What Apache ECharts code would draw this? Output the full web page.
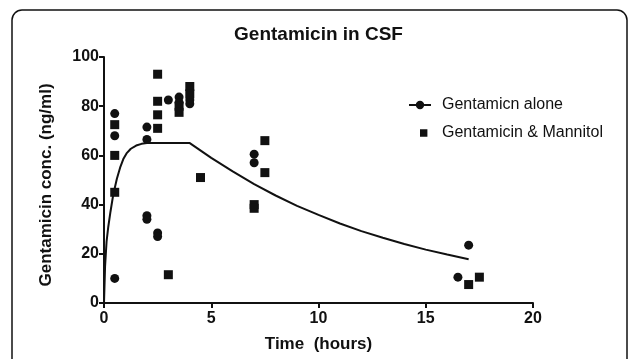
<!DOCTYPE html>
<html>
<head>
<meta charset="utf-8">
<script src="https://cdn.jsdelivr.net/npm/echarts@6/dist/echarts.min.js"></script>
<style>
  html, body { margin: 0; padding: 0; background: #fff; }
  #chart { width: 637px; height: 359px; }
</style>
</head>
<body>
<div id="chart"></div>
<script>
// values
const aloneTime = [0.5, 0.5, 0.5, 2, 2, 2, 2, 2.5, 2.5, 3, 3.5, 3.5, 4, 4, 7, 7, 16.5, 17]
const aloneConc = [77, 68, 10, 71.5, 66.5, 35.5, 34, 28.5, 27, 82.5, 83.7, 81.5, 82.5, 81, 60.5, 57, 10.5, 23.5]

const manTime = [0.5, 0.5, 0.5, 2.5, 2.5, 2.5, 2.5, 3, 3.5, 3.5, 4, 4, 4.5, 7, 7, 7.5, 7.5, 17, 17.5]
const manConc = [72.5, 60, 45, 93, 82, 76.5, 71, 11.5, 80, 77.5, 88, 85, 51, 40, 38.5, 66, 53, 7.5, 10.5]

// fitted curve, traced point by point
const fitTime = [0, 0.05, 0.12, 0.2, 0.3, 0.43, 0.6, 0.75, 0.9, 1.05, 1.25, 1.5, 1.75, 2, 3, 4, 5, 6, 7, 8, 9, 10, 11, 12, 13, 14, 15, 16, 17]
const fitConc = [0, 15, 25, 31, 37, 44, 50.5, 55, 58.5, 60.8, 62.7, 64, 64.7, 65, 65, 65, 59, 53.5, 48.3, 43.7, 39.5, 35.8, 32.3, 29.2, 26.5, 24, 21.7, 19.7, 17.8]

const xTicks = [0, 5, 10, 15, 20]
const yTicks = [0, 20, 40, 60, 80, 100]

const ink = '#111'
const font = '"Liberation Sans", Arial, sans-serif'

const zip = (xs, ys) => xs.map((x, i) => [x, ys[i]])

const chart = echarts.init(document.getElementById('chart'), null, { renderer: 'canvas' })

chart.setOption({
  animation: false,
  backgroundColor: '#fff',
  title: {
    text: 'Gentamicin in CSF',
    left: 'center',
    top: 20,
    textStyle: { fontFamily: font, fontSize: 19, fontWeight: 'bold', color: ink }
  },
  graphic: [{
    type: 'rect',
    shape: { x: 12, y: 10, width: 615, height: 400, r: 10 },
    style: { fill: 'none', stroke: ink, lineWidth: 1.5 },
    silent: true
  }],
  legend: {
    orient: 'vertical',
    left: 404,
    top: 92,
    itemWidth: 22,
    itemHeight: 10,
    itemGap: 12,
    textStyle: { fontFamily: font, fontSize: 16, color: ink, padding: [0, 0, 0, 6] },
    data: [
      { name: 'Gentamicn alone', icon: 'path://M0,0 L0.01,0 Z M0,4.1 L6.9,4.1 L6.9,5.9 L0,5.9 Z M15.1,4.1 L22,4.1 L22,5.9 L15.1,5.9 Z M6.8,5 A4.2,4.2 0 1 1 15.2,5 A4.2,4.2 0 1 1 6.8,5 Z M22,10 L21.99,10 Z' },
      { name: 'Gentamicin & Mannitol', icon: 'path://M0,0 L0.01,0 Z M11,1.3 L18.4,1.3 L18.4,8.7 L11,8.7 Z M22,10 L21.99,10 Z' }
    ]
  },
  grid: { left: 104, right: 104, top: 57, bottom: 56, containLabel: false },
  xAxis: {
    type: 'value',
    min: 0, max: 20, interval: 5,
    name: 'Time  (hours)',
    nameLocation: 'middle',
    nameGap: 33,
    nameTextStyle: { fontFamily: font, fontSize: 17, fontWeight: 'bold', color: ink },
    axisLine: { show: true, onZero: false, lineStyle: { color: ink, width: 2 } },
    axisTick: { show: true, length: 5, lineStyle: { color: ink, width: 2 } },
    axisLabel: {
      fontFamily: font, fontSize: 16, fontWeight: 'bold', color: ink, margin: 8,
      formatter: v => xTicks.includes(v) ? String(v) : ''
    },
    splitLine: { show: false }
  },
  yAxis: {
    type: 'value',
    min: 0, max: 100, interval: 20,
    name: 'Gentamicin conc. (ng/ml)',
    nameLocation: 'middle',
    nameGap: 49,
    nameTextStyle: { fontFamily: font, fontSize: 17, fontWeight: 'bold', color: ink, padding: [0, 10, 0, 0] },
    axisLine: { show: true, onZero: false, lineStyle: { color: ink, width: 2 } },
    axisTick: { show: true, length: 5, lineStyle: { color: ink, width: 2 } },
    axisLabel: {
      fontFamily: font, fontSize: 16, fontWeight: 'bold', color: ink, margin: 5,
      formatter: v => yTicks.includes(v) ? String(v) : ''
    },
    splitLine: { show: false }
  },
  series: [
    {
      name: 'fit',
      type: 'line',
      data: zip(fitTime, fitConc),
      symbol: 'none',
      smooth: false,
      lineStyle: { color: ink, width: 2 },
      z: 1
    },
    {
      name: 'Gentamicn alone',
      type: 'scatter',
      data: zip(aloneTime, aloneConc),
      symbol: 'circle',
      symbolSize: 9,
      itemStyle: { color: ink, opacity: 1 },
      z: 3
    },
    {
      name: 'Gentamicin & Mannitol',
      type: 'scatter',
      data: zip(manTime, manConc),
      symbol: 'rect',
      symbolSize: 9,
      itemStyle: { color: ink, opacity: 1 },
      z: 3
    }
  ]
})
</script>
</body>
</html>
